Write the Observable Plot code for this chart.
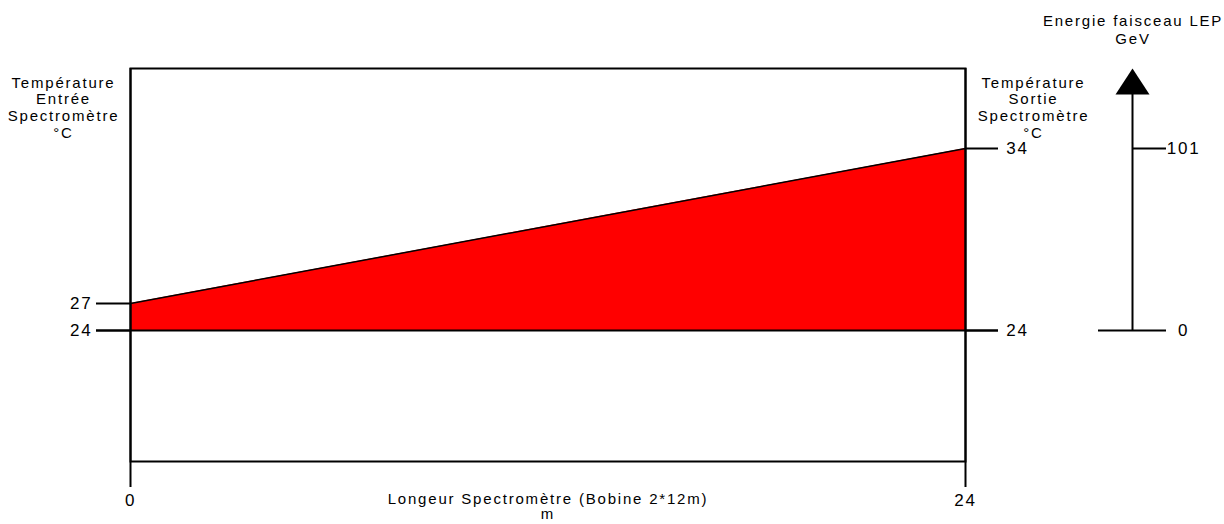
<!DOCTYPE html>
<html><head><meta charset="utf-8">
<script src="https://cdn.jsdelivr.net/npm/d3@7"></script>
<script src="https://cdn.jsdelivr.net/npm/@observablehq/plot@0.6"></script>
<style>
html,body{margin:0;padding:0;background:#fff;}
</style>
</head><body>
<script>
// ---- Data ----
const positions = [0, 24];            // m along the spectrometer
const temperatures = [27, 34];        // °C : entrée (left axis), sortie (right axis)
const baseTemperature = 24;           // °C
const entreeTicks = [24, 27];
const sortieTicks = [24, 34];
const energyTicks = [0, 101];         // GeV
const lengthTicks = [0, 24];
const leftTitle = "Température\nEntrée\nSpectromètre\n°C";
const rightTitle = "Température\nSortie\nSpectromètre\n°C";
const energyTitle = "Energie faisceau LEP\nGeV";
const xTitle = "Longeur Spectromètre (Bobine 2*12m)\nm";

// The y scale is in "sortie" °C; the entrée axis and the energy axis are aligned onto it
const entreeToY = d3.scaleLinear().domain([24, 27]).range([24, 24 + 3 * 9 / 18.2]);
const energyToY = d3.scaleLinear().domain([0, 101]).range([24, 34]);

const profile = positions.map((x, i) => ({
  x,
  top: i === 0 ? entreeToY(temperatures[i]) : temperatures[i]
}));

const arrowHead = {
  draw(context) {
    context.moveTo(0, -13);
    context.lineTo(17, 13);
    context.lineTo(-17, 13);
    context.closePath();
  }
};

const chart = Plot.plot({
  width: 1224,
  height: 524,
  marginLeft: 130,
  marginRight: 259,
  marginTop: 68,
  marginBottom: 63,
  style: {fontFamily: "'Liberation Sans', Arial, sans-serif", fontSize: "15px", letterSpacing: "1.8px", background: "white", color: "black"},
  x: {domain: [0, 24], axis: null},
  y: {domain: [24, 34], range: [330, 148], axis: null},
  marks: [
    Plot.areaY(profile, {x: "x", y1: baseTemperature, y2: "top", fill: "#ff0000"}),
    Plot.line(profile, {x: "x", y: "top", stroke: "black", strokeWidth: 1.5}),
    Plot.frame({stroke: "black", strokeWidth: 2}),
    // x axis ticks (frame edges extended)
    Plot.ruleX(lengthTicks, {x: d => d, insetBottom: -26, stroke: "black", strokeWidth: 2}),
    Plot.text(lengthTicks, {x: d => d, frameAnchor: "bottom", lineAnchor: "middle", dy: 39, text: d => String(d), fontSize: 17}),
    Plot.text([xTitle], {text: d => d, frameAnchor: "bottom", lineAnchor: "middle", dy: 45, lineHeight: 1.0}),
    // base line at 24 °C with its ticks
    Plot.ruleY([baseTemperature], {y: d => d, x1: 0, x2: 24, insetLeft: -34, insetRight: -33, stroke: "black", strokeWidth: 2}),
    // entrée axis (left)
    Plot.ruleY(entreeTicks, {y: d => entreeToY(d), x1: 0, x2: 0, insetLeft: -34, stroke: "black", strokeWidth: 2}),
    Plot.text(entreeTicks, {x: 0, y: d => entreeToY(d), text: d => String(d), textAnchor: "end", dx: -38, fontSize: 17}),
    Plot.text([leftTitle], {text: d => d, frameAnchor: "top-left", dx: -67, dy: 39, textAnchor: "middle", lineAnchor: "middle", lineHeight: 1.12}),
    // sortie axis (right)
    Plot.ruleY(sortieTicks, {y: d => d, x1: 24, x2: 24, insetRight: -33, stroke: "black", strokeWidth: 2}),
    Plot.text(sortieTicks, {x: 24, y: d => d, text: d => String(d), textAnchor: "middle", dx: 52, fontSize: 17}),
    Plot.text([rightTitle], {text: d => d, frameAnchor: "top-right", dx: 68, dy: 39, textAnchor: "middle", lineAnchor: "middle", lineHeight: 1.12}),
    // energy axis
    Plot.ruleX([24], {x: d => d, y1: energyToY(101), y2: energyToY(0), insetTop: -54, dx: 167, stroke: "black", strokeWidth: 2}),
    Plot.dot([24], {x: d => d, frameAnchor: "top", dx: 167, dy: 13, symbol: arrowHead, fill: "black", stroke: "none"}),
    Plot.ruleY([energyToY(0)], {y: d => d, x1: 24, x2: 24, insetLeft: 133, insetRight: -201, stroke: "black", strokeWidth: 2}),
    Plot.ruleY([energyToY(101)], {y: d => d, x1: 24, x2: 24, insetLeft: 167, insetRight: -201, stroke: "black", strokeWidth: 2}),
    Plot.text(energyTicks, {x: 24, y: d => energyToY(d), text: d => String(d), textAnchor: "middle", dx: 218, fontSize: 17}),
    Plot.text([energyTitle], {text: d => d, frameAnchor: "top-right", dx: 167.5, dy: -39.5, textAnchor: "middle", lineAnchor: "middle", lineHeight: 1.2})
  ]
});
document.body.appendChild(chart);
</script>
</body></html>
